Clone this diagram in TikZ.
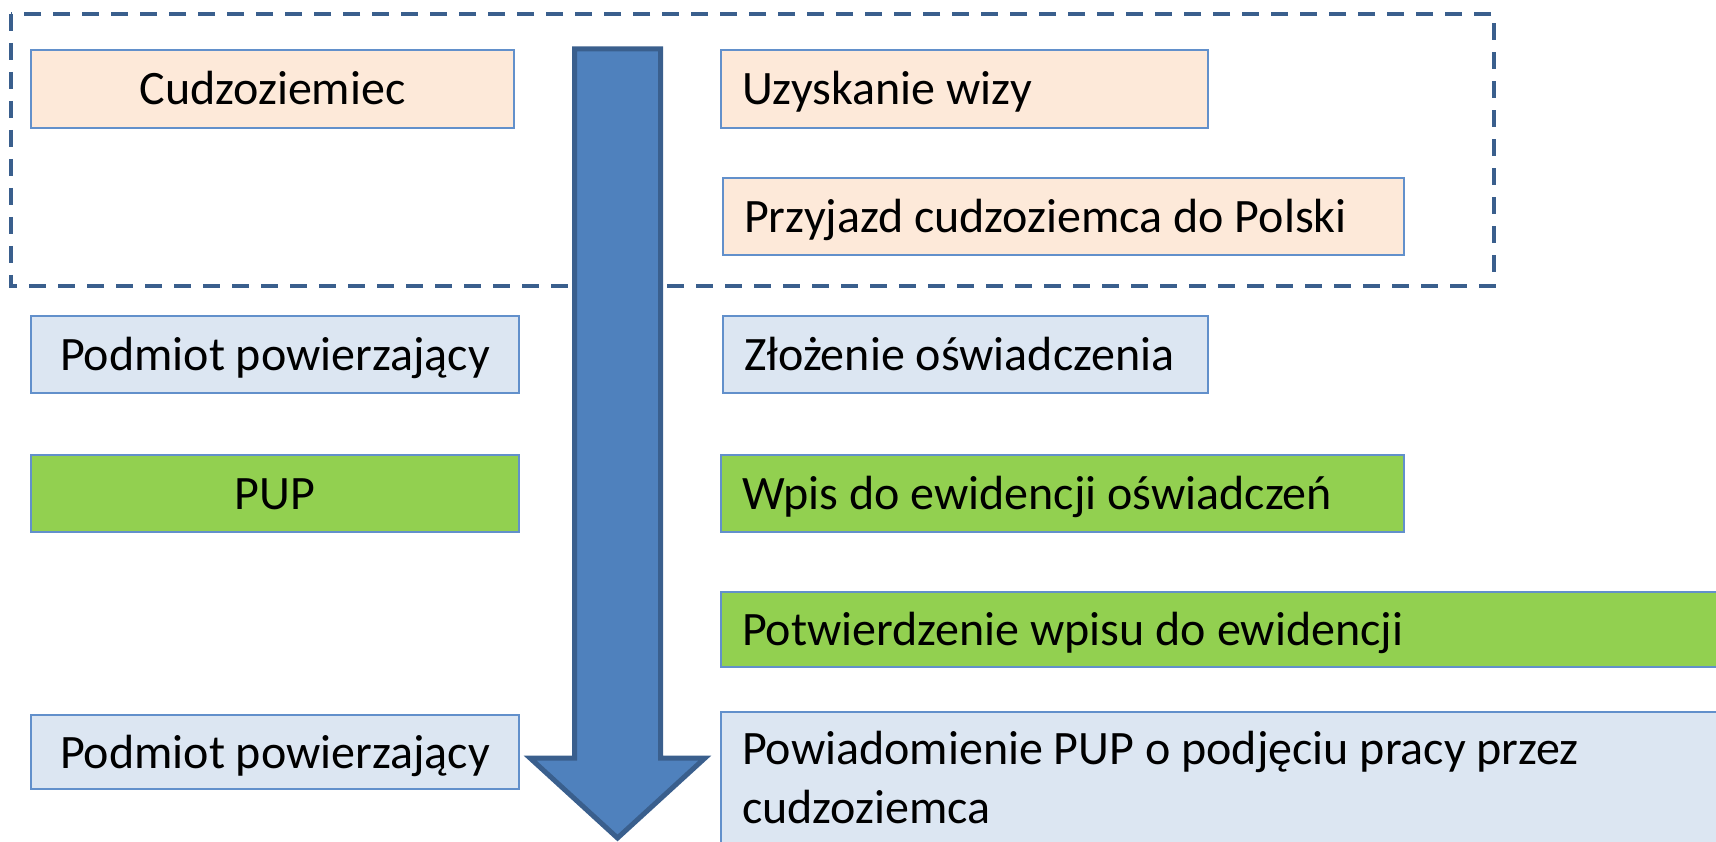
\documentclass[tikz,border=0pt]{standalone}
\usepackage{fontspec}
\setmainfont{Carlito}

\definecolor{peach}{HTML}{FDE9D9}
\definecolor{paleblue}{HTML}{DCE6F2}
\definecolor{leafgreen}{HTML}{92D050}
\definecolor{edgeblue}{HTML}{6290CB}
\definecolor{arrowfill}{HTML}{4F81BD}
\definecolor{arrowedge}{HTML}{3A5F8D}

\tikzset{
  stagebox/.style={draw=edgeblue, line width=2pt, anchor=north west, inner xsep=21pt,
    font=\fontsize{48}{59}\selectfont},
  oneline/.style={inner ysep=0pt, minimum height=77pt, text height=38pt, text depth=6pt},
  actor/.style={stagebox, oneline, align=center},
  task/.style={stagebox, oneline, align=flush left},
}

\begin{document}
\begin{tikzpicture}[x=1pt,y=-1pt]

  \useasboundingbox (0,0) rectangle (1716,842);
  \clip (0,0) rectangle (1716,842);

  % Dashed frame round the foreigner's steps
  \draw[arrowedge, line width=3.5pt, dash pattern=on 17pt off 12pt] (11,14) rectangle (1494,286);

  % Who does it (left column)
  \node[actor, fill=peach, minimum width=483pt, minimum height=78pt] (cudz) at (30,49) {Cudzoziemiec};
  \node[actor, fill=paleblue, minimum width=488pt] (podm1) at (30,315) {Podmiot powierzający};
  \node[actor, fill=leafgreen, minimum width=488pt] (pup) at (30,454) {PUP};
  \node[actor, fill=paleblue, minimum width=488pt, minimum height=74pt] (podm2) at (30,714) {Podmiot powierzający};

  % What is done (right column)
  \node[task, fill=peach, text width=445pt, minimum height=78pt] (wiza) at (720,49) {Uzyskanie wizy};
  \node[task, fill=peach, text width=639pt] (przyjazd) at (722,177) {Przyjazd cudzoziemca do Polski};
  \node[task, fill=paleblue, text width=443pt] (zlozenie) at (722,315) {Złożenie oświadczenia};
  \node[task, fill=leafgreen, text width=641pt] (wpis) at (720,454) {Wpis do ewidencji oświadczeń};
  \node[task, fill=leafgreen, text width=968pt, minimum height=75pt] (potw) at (720,591) {Potwierdzenie wpisu do ewidencji};
  \node[stagebox, fill=paleblue, align=flush left, text width=968pt, inner ysep=14pt] (powiad) at (720,711)
    {\rule{0pt}{38pt}Powiadomienie PUP o podjęciu pracy przez\\ cudzoziemca\rule[-60pt]{0pt}{60pt}};

  % Big arrow down the middle
  \draw[line width=5pt, draw=arrowedge, fill=arrowfill, line join=miter]
    (574.5,49) -- (660.5,49) -- (660.5,758) -- (705,758) -- (617.5,838)
    -- (530,758) -- (574.5,758) -- cycle;

\end{tikzpicture}
\end{document}
